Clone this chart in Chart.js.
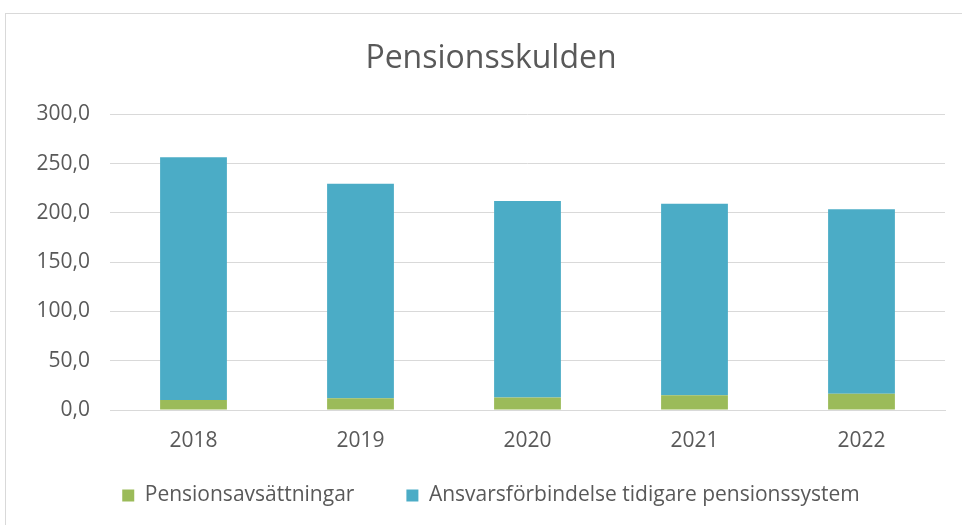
<!DOCTYPE html>
<html>
<head>
<meta charset="utf-8">
<script src="https://cdn.jsdelivr.net/npm/chart.js@4/dist/chart.umd.min.js"></script>
<style>
html,body{margin:0;padding:0;background:#fff;}
#wrap{position:relative;width:962px;height:525px;}
</style>
</head>
<body>
<div id="wrap"><canvas id="c" width="962" height="525"></canvas></div>
<script>
const categories = ['2018', '2019', '2020', '2021', '2022'];
const pensionsavsattningar = [10.1, 11.8, 12.8, 14.9, 16.6];
const ansvarsforbindelse = [246.5, 217.8, 199.4, 194.3, 187.2];
const seriesNames = ['Pensionsavsättningar', 'Ansvarsförbindelse tidigare pensionssystem'];
const chartTitle = 'Pensionsskulden';

const frame = {
  id: 'frame',
  beforeDraw(chart) {
    const ctx = chart.ctx;
    ctx.save();
    ctx.fillStyle = '#fff';
    ctx.fillRect(0, 0, chart.width, chart.height);
    ctx.strokeStyle = '#d9d9d9';
    ctx.lineWidth = 1;
    ctx.strokeRect(5.5, 13.5, chart.width + 10, chart.height + 10);
    ctx.restore();
  }
};

Chart.defaults.font.family = '"Open Sans", sans-serif';
Chart.defaults.color = '#595959';

const gapSpaces = '\u2002\u2002\u2002\u2002';

new Chart(document.getElementById('c'), {
  type: 'bar',
  data: {
    labels: categories,
    datasets: [
      { label: seriesNames[0], data: pensionsavsattningar, backgroundColor: '#9BBB59', barPercentage: 0.4, categoryPercentage: 1.0 },
      { label: seriesNames[1], data: ansvarsforbindelse, backgroundColor: '#4BACC6', barPercentage: 0.4, categoryPercentage: 1.0 }
    ]
  },
  options: {
    responsive: false,
    animation: false,
    layout: { padding: { left: 37, right: 17, top: 13, bottom: 9 } },
    plugins: {
      title: {
        display: true, text: chartTitle, color: '#595959',
        font: { size: 32, weight: 'normal' },
        padding: { top: 27, bottom: 36 }
      },
      legend: {
        position: 'bottom',
        labels: {
          boxWidth: 12, boxHeight: 12, padding: 10, font: { size: 21 }, color: '#595959',
          generateLabels(chart) {
            const items = Chart.defaults.plugins.legend.labels.generateLabels(chart);
            items.forEach((it, i) => { if (i < items.length - 1) it.text = it.text + gapSpaces; });
            return items;
          }
        }
      },
      tooltip: { enabled: false }
    },
    scales: {
      x: {
        stacked: true,
        afterFit(scale) { scale.height = 65; },
        grid: { display: false },
        border: { display: true, color: '#d9d9d9', width: 1 },
        ticks: { font: { size: 21 }, color: '#595959', padding: 10 }
      },
      y: {
        stacked: true,
        min: 0, max: 300,
        afterFit(scale) { scale.width = 73; },
        grid: { color: '#d9d9d9', drawTicks: false },
        border: { display: false },
        ticks: {
          stepSize: 50, font: { size: 21 }, color: '#595959', padding: 20,
          callback: v => v.toFixed(1).replace('.', ',')
        }
      }
    }
  },
  plugins: [frame]
});
</script>
</body>
</html>
